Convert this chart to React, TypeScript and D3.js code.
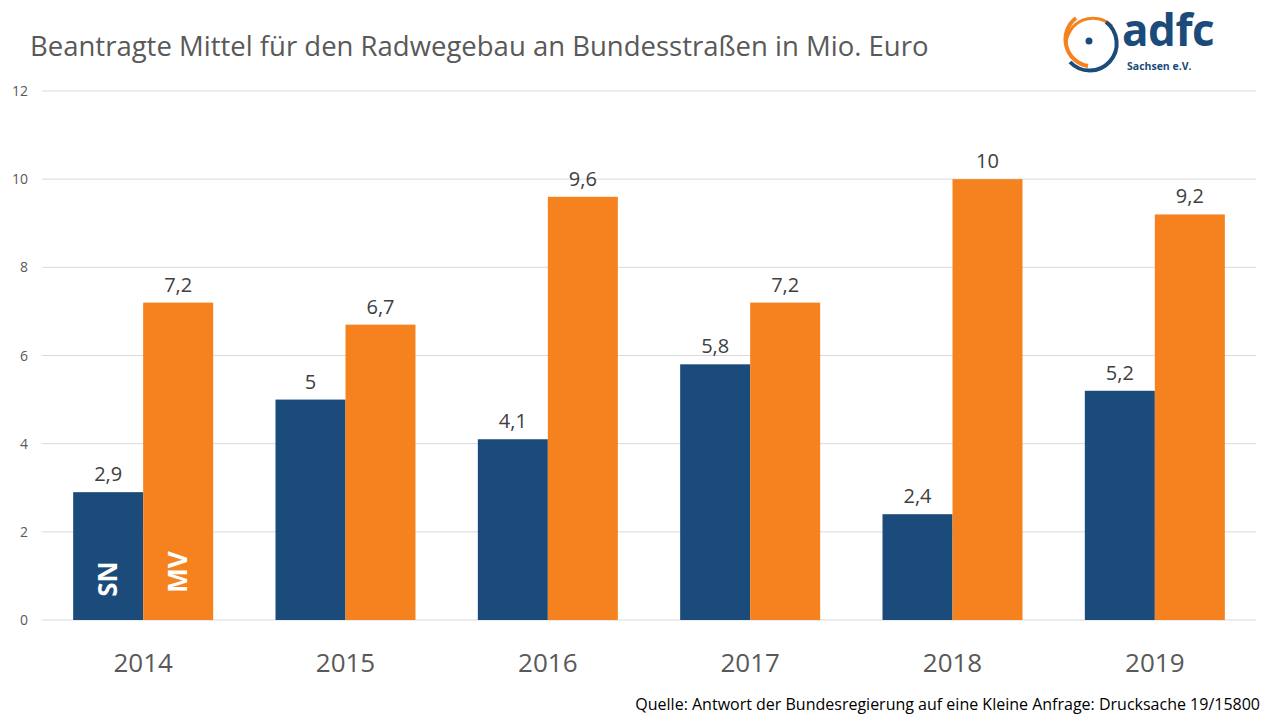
import React from "react";
import * as d3 from "d3";

const years = ["2014", "2015", "2016", "2017", "2018", "2019"];
const seriesNames = ["SN", "MV"];
const snValues = [2.9, 5, 4.1, 5.8, 2.4, 5.2];
const mvValues = [7.2, 6.7, 9.6, 7.2, 10, 9.2];
const yTicks = [0, 2, 4, 6, 8, 10, 12];
const colors = ["#1a4b7b", "#f5821f"];

const W = 1280, H = 720;
const left = 42, right = 1256, top = 91, bottom = 620;
const font = "'Open Sans', 'Noto Sans', sans-serif";

export default function App() {
  const x = d3.scaleBand().domain(years).range([left, right]).paddingInner(0).paddingOuter(0);
  const inner = d3.scaleBand().domain(seriesNames).range([0, 140]);
  const y = d3.scaleLinear().domain([0, 12]).range([bottom, top]);
  const fmt = (v: number) => String(v).replace(".", ",");
  const series = [snValues, mvValues];
  return (
    <svg width={W} height={H} style={{ position: "absolute", left: 0, top: 0, background: "#fff" }}>
      <rect width={W} height={H} fill="#fff" />
      <text x={30} y={56} fontFamily={font} fontSize={27.5} fill="#595959">Beantragte Mittel für den Radwegebau an Bundesstraßen in Mio. Euro</text>
      {yTicks.map(t => (
        <g key={t}>
          <line x1={left} x2={right} y1={y(t)} y2={y(t)} stroke="#d9d9d9" strokeWidth={1} />
          <text x={28} y={y(t) + 5} textAnchor="end" fontFamily={font} fontSize={14} fill="#595959">{t}</text>
        </g>
      ))}
      {years.map((yr, i) => {
        const cx = x(yr)! + x.bandwidth() / 2;
        const gx = cx - 70;
        return (
          <g key={yr}>
            {series.map((vals, s) => {
              const bx = gx + inner(seriesNames[s])!;
              return (
                <g key={s}>
                  <rect x={bx} y={y(vals[i])} width={inner.bandwidth()} height={bottom - y(vals[i])} fill={colors[s]} />
                  <text x={bx + inner.bandwidth() / 2} y={y(vals[i]) - 11} textAnchor="middle" fontFamily={font} fontSize={20} fill="#404040">{fmt(vals[i])}</text>
                </g>
              );
            })}
            <text x={cx} y={672} textAnchor="middle" fontFamily={font} fontSize={26} fill="#595959">{yr}</text>
          </g>
        );
      })}
      {seriesNames.map((n, s) => {
        const bx = x(years[0])! + x.bandwidth() / 2 - 70 + inner(n)! + inner.bandwidth() / 2;
        return (
          <text key={n} transform={`translate(${bx + 9},${s === 0 ? 579 : 572}) rotate(-90)`} textAnchor="middle" fontFamily={font} fontWeight="bold" fontSize={26} fill="#fff">{n}</text>
        );
      })}
      <text x={1260} y={710} textAnchor="end" fontFamily={font} fontSize={16} fill="#000">Quelle: Antwort der Bundesregierung auf eine Kleine Anfrage: Drucksache 19/15800</text>
      <g>
        <path d="M1088,66 A27,27 0 0 1 1076,18" fill="none" stroke="#f5821f" strokeWidth={4} />
        <path d="M1066,45 A27,27 0 0 1 1112,26" fill="none" stroke="#f5821f" strokeWidth={3} />
        <path d="M1106,22 A27,27 0 1 1 1070,62" fill="none" stroke="#1a4b7b" strokeWidth={4} />
        <circle cx={1089} cy={41} r={3.5} fill="#1a4b7b" />
        <text x={1122} y={46} fontFamily="'Open Sans', sans-serif" fontWeight="bold" fontSize={44} fill="#1a4b7b" letterSpacing={-0.5}>adfc</text>
        <text x={1127} y={70} fontFamily="'Open Sans', sans-serif" fontWeight="bold" fontSize={10.5} fill="#1a4b7b">Sachsen e.V.</text>
      </g>
    </svg>
  );
}
